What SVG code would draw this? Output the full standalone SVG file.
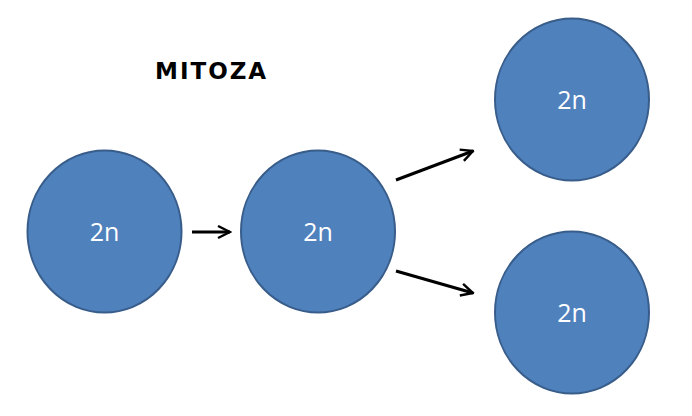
<svg xmlns="http://www.w3.org/2000/svg" width="692" height="416" viewBox="0 0 692 416">
<style>
.cell{fill:#4F81BD;stroke:#385D8A;stroke-width:2}
.lbl{fill:#fff;font-family:"Open Sans","Liberation Sans",sans-serif;font-size:25px;text-anchor:middle}
.title{fill:#000;font-family:"DejaVu Sans","Liberation Sans",sans-serif;font-weight:bold;font-size:23px;letter-spacing:2px}
.arr{fill:none;stroke:#000;stroke-width:3}
</style>
<defs>
<marker id="ah" viewBox="0 0 10 10" refX="9" refY="5" markerWidth="5" markerHeight="5" orient="auto" markerUnits="strokeWidth">
<path d="M1,1 L9,5 L1,9" fill="none" stroke="#000" stroke-width="1.6"/>
</marker>
</defs>
<rect width="692" height="416" fill="#fff"/>
<text class="title" x="155" y="79">MITOZA</text>
<g id="connectors">
<line class="arr" x1="192" y1="232" x2="230" y2="232" marker-end="url(#ah)"/>
<line class="arr" x1="396" y1="180" x2="473" y2="151" marker-end="url(#ah)"/>
<line class="arr" x1="396" y1="271" x2="473" y2="293" marker-end="url(#ah)"/>
</g>
<g id="cell1"><ellipse class="cell" cx="104.5" cy="231.5" rx="77" ry="81"/><text class="lbl" x="104.5" y="241">2n</text></g>
<g id="cell2"><ellipse class="cell" cx="318" cy="231.5" rx="77" ry="81"/><text class="lbl" x="318" y="241">2n</text></g>
<g id="cell3"><ellipse class="cell" cx="572" cy="99.5" rx="77" ry="81"/><text class="lbl" x="572" y="109">2n</text></g>
<g id="cell4"><ellipse class="cell" cx="572" cy="312.5" rx="77" ry="81"/><text class="lbl" x="572" y="322">2n</text></g>
</svg>
